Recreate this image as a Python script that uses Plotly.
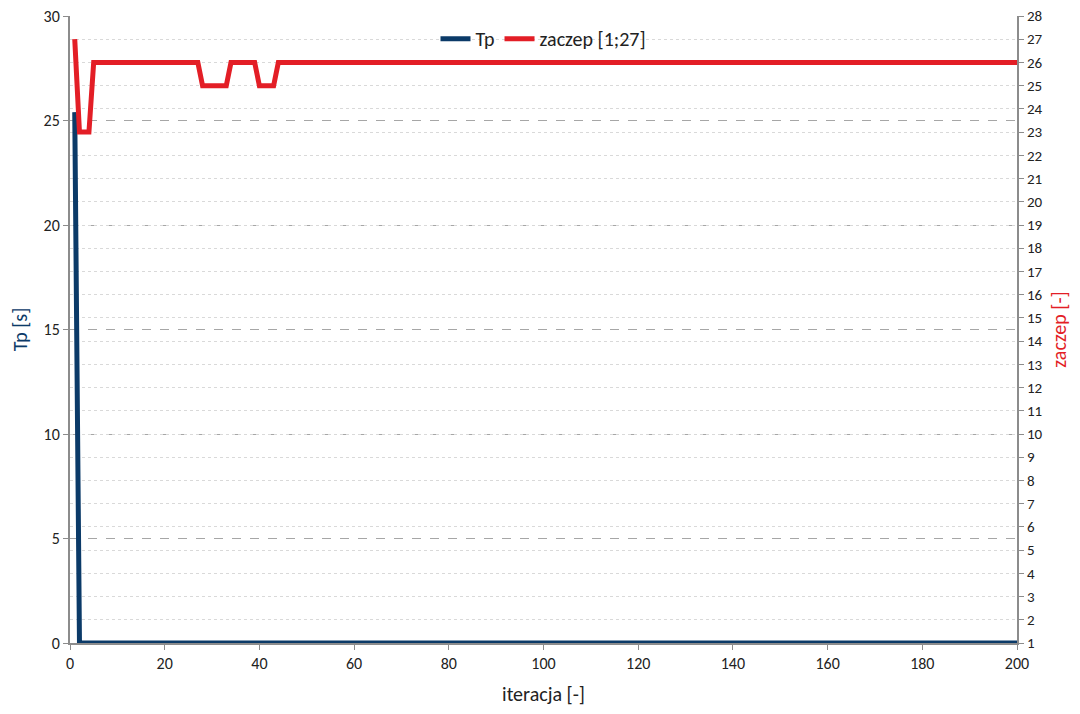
import plotly.graph_objects as go

NAVY = "#0b3a68"
RED = "#e31e26"
AXIS = "#8c8c8c"
FONT = "Carlito, Calibri, Lato, sans-serif"

# Tp [s] per iteration (breakpoints of the line, iterations 1..200)
tp_iter = [1, 2, 200]
tp_values = [25.4, 0, 0]

# zaczep [-] per iteration (breakpoints of the line)
zaczep_iter = [1, 2, 4, 5, 27, 28, 33, 34, 39, 40, 43, 44, 200]
zaczep_values = [27, 23, 23, 26, 26, 25, 25, 26, 26, 25, 25, 26, 26]

x_ticks = list(range(0, 201, 20))
left_ticks = list(range(0, 31, 5))
right_ticks = list(range(1, 29))

fig = go.Figure()
fig.add_trace(go.Scatter(
    x=tp_iter, y=tp_values, name="Tp", mode="lines",
    line=dict(color=NAVY, width=5), yaxis="y",
))
fig.add_trace(go.Scatter(
    x=zaczep_iter, y=zaczep_values, name="zaczep [1;27]", mode="lines",
    line=dict(color=RED, width=5), yaxis="y2",
))

# page body has an 8px margin, so the figure is sized to sit inside the window
fig.update_layout(
    width=1064, height=698,
    margin=dict(l=62, r=55, t=8, b=63),
    paper_bgcolor="white", plot_bgcolor="white",
    font=dict(family=FONT, size=16, color="#222222"),
    showlegend=True,
    legend=dict(orientation="h", x=0.5, xanchor="center", y=0.995, yanchor="top",
                bgcolor="rgba(0,0,0,0)", font=dict(size=20), itemwidth=30),
    hovermode=False,
    xaxis=dict(
        range=[0, 200], tickvals=x_ticks, showgrid=False, zeroline=False,
        showline=True, linecolor=AXIS, linewidth=2, ticks="outside",
        ticklen=5, tickcolor=AXIS, automargin=False, ticklabeloverflow="allow",
        title=dict(text="iteracja [-]", font=dict(size=20), standoff=20),
    ),
    yaxis=dict(
        range=[0, 30], tickvals=left_ticks, zeroline=False,
        showgrid=True, gridcolor="#a6a6a6", griddash="dash", gridwidth=1,
        showline=True, linecolor=AXIS, linewidth=2, ticks="outside",
        ticklen=5, tickcolor=AXIS, automargin=False, ticklabeloverflow="allow",
        title=dict(text="Tp [s]", font=dict(size=20, color=NAVY), standoff=14),
    ),
    yaxis2=dict(
        range=[1, 28], tickvals=right_ticks, overlaying="y", side="right",
        zeroline=False, showgrid=True, gridcolor="#d9d9d9", griddash="dot",
        gridwidth=1, showline=True, linecolor=AXIS, linewidth=2,
        ticks="outside", ticklen=5, tickcolor=AXIS, automargin=False,
        ticklabeloverflow="allow", tickfont=dict(size=15),
        title=dict(text="zaczep [-]", font=dict(size=20, color=RED), standoff=10),
    ),
)

fig.write_html("out.html")
